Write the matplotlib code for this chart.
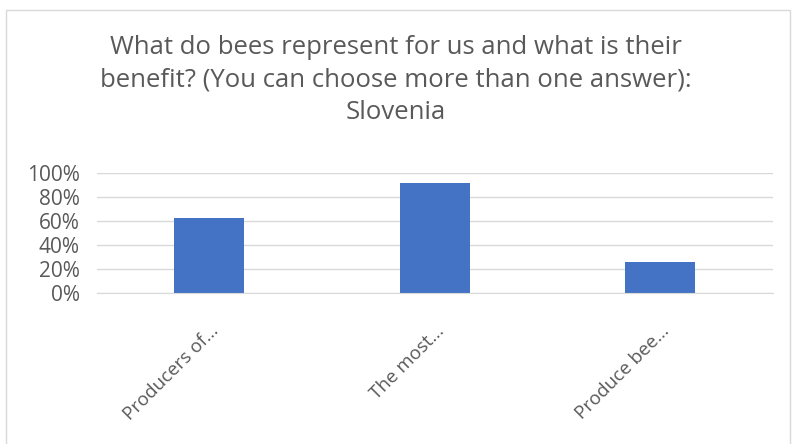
import matplotlib.pyplot as plt
import matplotlib.patches as patches
from matplotlib.ticker import PercentFormatter

categories = ['Producers of...', 'The most...', 'Produce bee...']
values = [0.63, 0.92, 0.26]
yticks = [0, 0.2, 0.4, 0.6, 0.8, 1.0]

plt.rcParams['font.family'] = ['Open Sans', 'DejaVu Sans']

fig = plt.figure(figsize=(7.92, 4.44), dpi=100)
ax = fig.add_axes([0.122, 0.34, 0.854, 0.27])

# chart border
fig.patches.append(patches.Rectangle((6 / 792, -0.05), 784 / 792, 1 - 10 / 444 + 0.05,
                                     transform=fig.transFigure, fill=False,
                                     edgecolor='#d9d9d9', linewidth=1))

x = range(len(categories))
ax.bar(x, values, width=0.31, color='#4472c4')

ax.set_xlim(-0.5, 2.5)
ax.set_ylim(0, 1.0)
ax.set_yticks(yticks)
ax.yaxis.set_major_formatter(PercentFormatter(1.0, decimals=0))
ax.grid(axis='y', color='#d9d9d9', linewidth=1)
ax.set_axisbelow(True)
for side in ['top', 'right', 'left']:
    ax.spines[side].set_visible(False)
ax.spines['bottom'].set_color('#d9d9d9')
ax.tick_params(axis='y', length=0, labelsize=15, colors='#595959', pad=12)
ax.tick_params(axis='x', length=0, labelsize=13.5, colors='#595959')
ax.set_xticks(list(x))
ax.set_xticklabels(categories, rotation=45, ha='right', rotation_mode='anchor')
for lbl in ax.get_xticklabels():
    lbl.set_y(-0.2)

fig.text(0.5, 0.82, 'What do bees represent for us and what is their\n'
         'benefit? (You can choose more than one answer):\nSlovenia',
         ha='center', va='center', fontsize=18.5, color='#595959', linespacing=1.38)

fig.savefig('out.png', dpi=100)
